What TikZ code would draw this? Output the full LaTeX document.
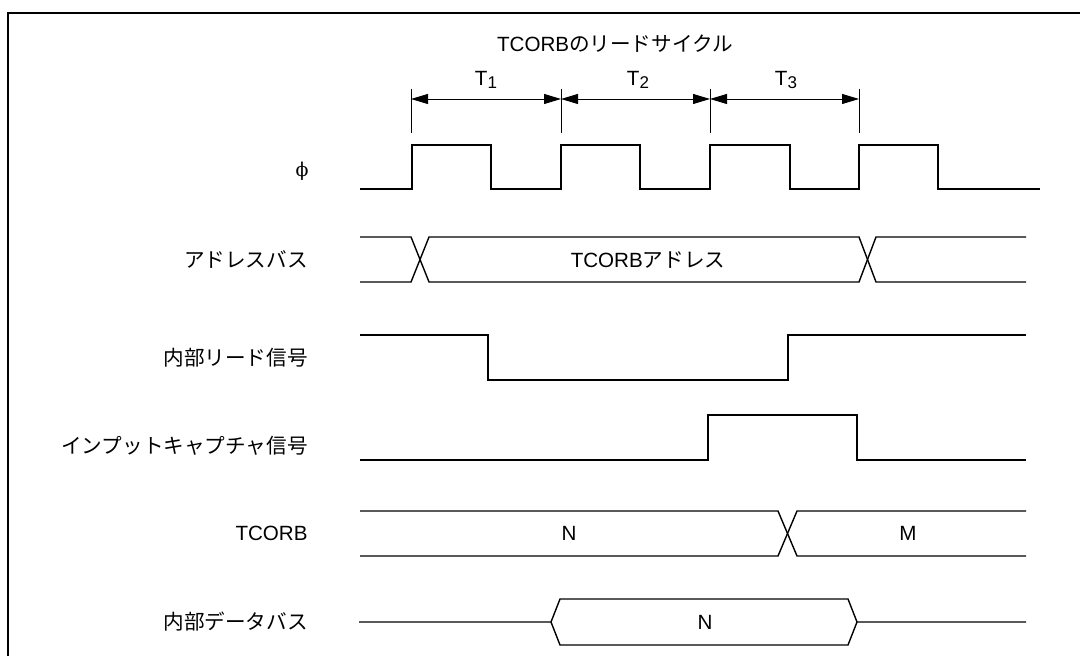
\documentclass[tikz,border=0pt]{standalone}
\usepackage{fontspec}
\setmainfont{Liberation Sans}
\newfontfamily\jp{Noto Sans CJK JP}
\newfontfamily\grk{DejaVu Serif}
\usetikzlibrary{arrows.meta}
\begin{document}
\begin{tikzpicture}[x=0.5pt,y=-0.5pt,
  sig/.style={line width=0.7pt,line join=miter},
  frame/.style={line width=1.25pt},
  tick/.style={line width=0.4pt},
  dim/.style={line width=0.45pt,{Triangle[length=8.5pt,width=5pt]}-{Triangle[length=8.5pt,width=5pt]}},
  lbl/.style={anchor=east,inner sep=0pt,font=\fontsize{10.3pt}{12pt}\selectfont},
  txt/.style={inner sep=0pt,font=\fontsize{10.3pt}{12pt}\selectfont}]
\useasboundingbox (0,0) rectangle (1080,656);
% frame
\draw[frame] (8,656) -- (8,13) -- (1080,13);
% title
\node[txt] (title) at (615,44) {TCORB{\jp のリードサイクル}};
% ticks
\coordinate (k1t) at (411,89); \coordinate (k1b) at (411,133);
\coordinate (k2t) at (561,89); \coordinate (k2b) at (561,133);
\coordinate (k3t) at (710,89); \coordinate (k3b) at (710,133);
\coordinate (k4t) at (859,89); \coordinate (k4b) at (859,133);
\draw[tick] (k1t) -- (k1b); \draw[tick] (k2t) -- (k2b);
\draw[tick] (k3t) -- (k3b); \draw[tick] (k4t) -- (k4b);
\coordinate (a1) at (411,99); \coordinate (a2) at (561,99);
\coordinate (a3) at (710,99); \coordinate (a4) at (859,99);
\draw[dim] (a1) -- (a2);
\draw[dim] (a2) -- (a3);
\draw[dim] (a3) -- (a4);
\node[txt] (t1) at (486,80) {T\raisebox{-0.2ex}{\fontsize{8.5pt}{9pt}\selectfont 1}};
\node[txt] (t2) at (638,80) {T\raisebox{-0.2ex}{\fontsize{8.5pt}{9pt}\selectfont 2}};
\node[txt] (t3) at (786,80) {T\raisebox{-0.2ex}{\fontsize{8.5pt}{9pt}\selectfont 3}};
% labels
\node[inner sep=0pt,font=\grk\fontsize{9.5pt}{11pt}\selectfont] (lphi) at (302,171) {ϕ};
\node[lbl] (laddr) at (308,260) {\jp アドレスバス};
\node[lbl] (lrd) at (308,358) {\jp 内部リード信号};
\node[lbl] (lic) at (308,446) {\jp インプットキャプチャ信号};
\node[lbl] (ltc) at (308,533) {TCORB};
\node[lbl] (ldb) at (308,622) {\jp 内部データバス};
% clock
\draw[sig] (360,189) -- (412,189) -- (412,145) -- (491,145) -- (491,189) -- (561,189) -- (561,145) -- (640,145) -- (640,189) -- (710,189) -- (710,145) -- (790,145) -- (790,189) -- (859,189) -- (859,145) -- (938,145) -- (938,189) -- (1040,189);
% address bus
\draw[sig] (360,237) -- (411,237) -- (429,282) -- (859,282) -- (876,237) -- (1026,237);
\draw[sig] (360,282) -- (411,282) -- (429,237) -- (859,237) -- (876,282) -- (1026,282);
\node[txt] (addr) at (648,260) {TCORB{\jp アドレス}};
% read
\draw[sig] (360,335) -- (488,335) -- (488,380) -- (788,380) -- (788,335) -- (1026,335);
% input capture
\draw[sig] (360,460) -- (708,460) -- (708,415) -- (857,415) -- (857,460) -- (1026,460);
% TCORB
\draw[sig] (360,511) -- (778,511) -- (797,556) -- (1026,556);
\draw[sig] (360,556) -- (778,556) -- (797,511) -- (1026,511);
\node[txt] (tn) at (569,533) {N};
\node[txt] (tm) at (908,533) {M};
% data bus
\draw[sig] (359,622) -- (551,622) -- (560,599) -- (848,599) -- (857,622) -- (1026,622);
\draw[sig] (551,622) -- (560,645) -- (848,645) -- (857,622);
\node[txt] (dn) at (705,622) {N};
\end{tikzpicture}
\end{document}
